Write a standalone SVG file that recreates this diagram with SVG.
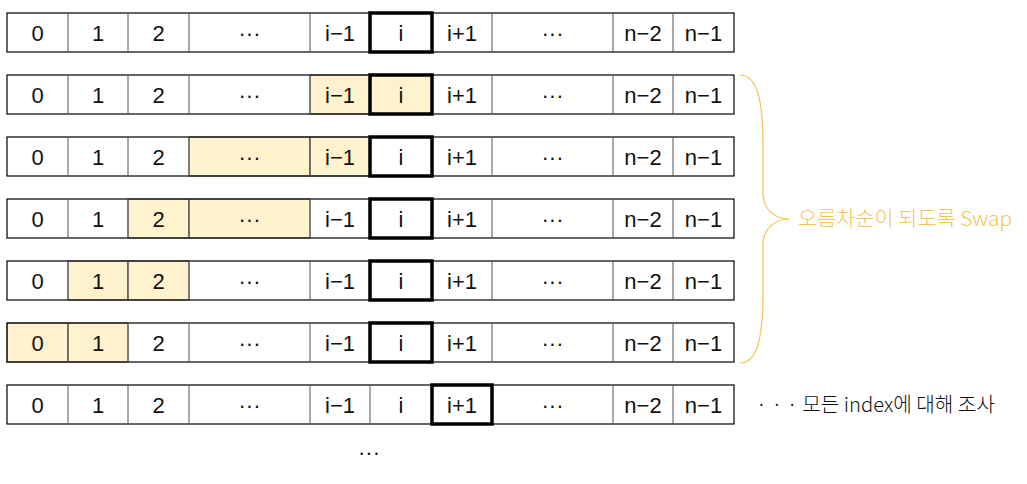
<svg xmlns="http://www.w3.org/2000/svg" width="1027" height="484" viewBox="0 0 1027 484">
<style>
.cell{fill:#fff;stroke:#555;stroke-width:1}
.hl{fill:#FFF2CC;stroke:#555;stroke-width:1}
.frame{fill:none;stroke:#000;stroke-width:1.2}
.sel{fill:none;stroke:#000;stroke-width:3.5}
.t{font-family:"Liberation Sans",Arial,sans-serif;font-size:22px;fill:#111;text-anchor:middle}
.lbl{font-family:"Noto Sans CJK KR","Liberation Sans",sans-serif;font-size:20px;font-weight:300}
</style>
<defs>
<g id="labels">
<text class="t" x="37.5" y="40.5">0</text>
<text class="t" x="98" y="40.5">1</text>
<text class="t" x="158.5" y="40.5">2</text>
<text class="t" x="249.5" y="40.5">···</text>
<text class="t" x="340" y="40.5">i−1</text>
<text class="t" x="401" y="40.5">i</text>
<text class="t" x="462" y="40.5">i+1</text>
<text class="t" x="552.5" y="40.5">···</text>
<text class="t" x="643" y="40.5">n−2</text>
<text class="t" x="703.5" y="40.5">n−1</text>
</g>
<g id="grid">
<rect class="frame" x="7" y="13" width="727" height="39"/>
<path d="M68 13V52M128 13V52M189 13V52M310 13V52M370 13V52M432 13V52M492 13V52M613 13V52M673 13V52" stroke="#555" stroke-width="1"/>
</g>
</defs>
<g id="row1">
<use href="#grid"/>
<use href="#labels"/>
<rect class="sel" x="370" y="13" width="62" height="39"/>
</g>
<g id="row2" transform="translate(0,62)">
<rect class="hl" x="310" y="13" width="60" height="39"/>
<rect class="hl" x="370" y="13" width="62" height="39"/>
<use href="#grid"/>
<use href="#labels"/>
<rect class="sel" x="370" y="13" width="62" height="39"/>
</g>
<g id="row3" transform="translate(0,124)">
<rect class="hl" x="189" y="13" width="121" height="39"/>
<rect class="hl" x="310" y="13" width="60" height="39"/>
<use href="#grid"/>
<use href="#labels"/>
<rect class="sel" x="370" y="13" width="62" height="39"/>
</g>
<g id="row4" transform="translate(0,186)">
<rect class="hl" x="128" y="13" width="61" height="39"/>
<rect class="hl" x="189" y="13" width="121" height="39"/>
<use href="#grid"/>
<use href="#labels"/>
<rect class="sel" x="370" y="13" width="62" height="39"/>
</g>
<g id="row5" transform="translate(0,248)">
<rect class="hl" x="68" y="13" width="60" height="39"/>
<rect class="hl" x="128" y="13" width="61" height="39"/>
<use href="#grid"/>
<use href="#labels"/>
<rect class="sel" x="370" y="13" width="62" height="39"/>
</g>
<g id="row6" transform="translate(0,310)">
<rect class="hl" x="7" y="13" width="61" height="39"/>
<rect class="hl" x="68" y="13" width="60" height="39"/>
<use href="#grid"/>
<use href="#labels"/>
<rect class="sel" x="370" y="13" width="62" height="39"/>
</g>
<g id="row7" transform="translate(0,372)">
<use href="#grid"/>
<use href="#labels"/>
<rect class="sel" x="432" y="13" width="60" height="39"/>
</g>
<g id="connectors">
<path d="M740 75C757 75 763 100 763 145L763 195C764 210 775 219 790 219C775 219 764 228 763 243L763 293C763 338 757 363 740 363" fill="none" stroke="#F4C453" stroke-width="1.2"/>
</g>
<g id="swap-label">
<text class="lbl" x="798" y="226" fill="#F4C453" textLength="214" lengthAdjust="spacingAndGlyphs">오름차순이 되도록 Swap</text>
</g>
<g id="index-label">
<text class="lbl" x="756" y="412" fill="#111" textLength="239" lengthAdjust="spacingAndGlyphs">· · · 모든 index에 대해 조사</text>
</g>
<g id="more">
<text class="t" x="369" y="460">···</text>
</g>
</svg>
